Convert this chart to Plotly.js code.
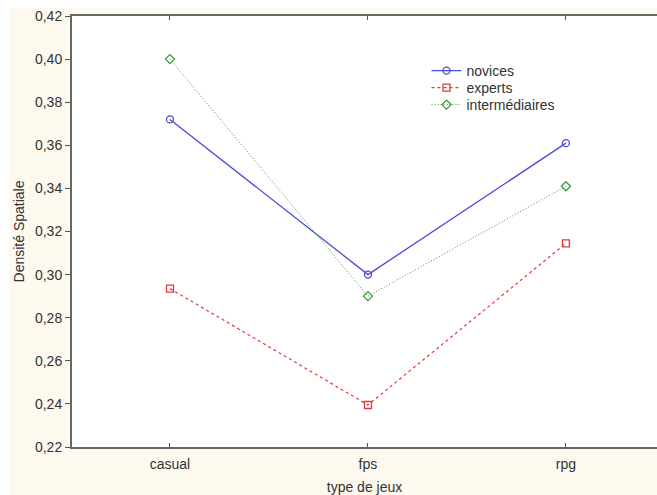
<!DOCTYPE html>
<html><head><meta charset="utf-8">
<script src="https://cdn.plot.ly/plotly-3.0.1.min.js"></script>
<style>
html,body{margin:0;padding:0;background:#ffffff;}
#bg{position:absolute;left:9px;top:8px;width:648px;height:487px;background:#fdf9ee;}
#chart{position:absolute;left:0;top:0;width:657px;height:495px;}
</style></head>
<body><div id="bg"></div><div id="chart"></div>
<script>
var categories = ['casual', 'fps', 'rpg'];
var novices = [0.372, 0.300, 0.361];
var experts = [0.2935, 0.2395, 0.3145];
var intermediaires = [0.400, 0.290, 0.341];
var yTicks = [0.22, 0.24, 0.26, 0.28, 0.30, 0.32, 0.34, 0.36, 0.38, 0.40, 0.42];

var traces = [
  {x: categories, y: novices, name: 'novices', type: 'scatter', mode: 'lines+markers', legend: 'legend',
   line: {color: '#4a4ad8', width: 1.3, dash: 'solid'},
   marker: {symbol: 'circle-open', size: 7, color: '#4a4ad8', line: {width: 1.3}}},
  {x: categories, y: experts, name: 'experts', type: 'scatter', mode: 'lines+markers', legend: 'legend2',
   line: {color: '#e03a3a', width: 1.2, dash: '3px,3px'},
   marker: {symbol: 'square-open', size: 7, color: '#e03a3a', line: {width: 1.3}}},
  {x: categories, y: intermediaires, name: 'intermédiaires', type: 'scatter', mode: 'lines+markers', legend: 'legend3',
   line: {color: '#3a9a3a', width: 1, dash: '1px,2px'},
   marker: {symbol: 'diamond-open', size: 7, color: '#3a9a3a', line: {width: 1.3}}}
];

function legendAt(y) {
  return {x: 0.606, y: y, xanchor: 'left', yanchor: 'top', bgcolor: 'rgba(0,0,0,0)',
          font: {size: 14, color: '#333333'}, itemwidth: 30};
}

var layout = {
  width: 657, height: 495,
  margin: {l: 72, r: 0, t: 16, b: 48},
  paper_bgcolor: 'rgba(0,0,0,0)',
  plot_bgcolor: '#ffffff',
  font: {family: 'Liberation Sans, Arial, sans-serif', size: 14, color: '#333333'},
  showlegend: true,
  legend: legendAt(0.9095),
  legend2: legendAt(0.870),
  legend3: legendAt(0.8306),
  xaxis: {
    range: [-0.495, 2.46], type: 'category',
    showgrid: false, zeroline: false,
    showline: true, linecolor: '#666666', linewidth: 2, mirror: 'ticks',
    ticks: 'inside', ticklen: 4, tickcolor: '#555555',
    ticklabelstandoff: 3,
    tickfont: {size: 14, color: '#333333'},
    title: {text: 'type de jeux', font: {size: 14, color: '#333333'}, standoff: 12}
  },
  yaxis: {
    range: [0.22, 0.42], tickvals: yTicks,
    tickformat: '.2f',
    showgrid: false, zeroline: false,
    showline: true, linecolor: '#666666', linewidth: 2, mirror: true,
    ticks: 'outside', ticklen: 5, tickcolor: '#555555',
    tickfont: {size: 14, color: '#333333'},
    title: {text: 'Densité Spatiale', font: {size: 14, color: '#333333'}, standoff: 7}
  },
  separators: ', '
};

Plotly.newPlot('chart', traces, layout, {displayModeBar: false, staticPlot: true});
</script></body></html>
